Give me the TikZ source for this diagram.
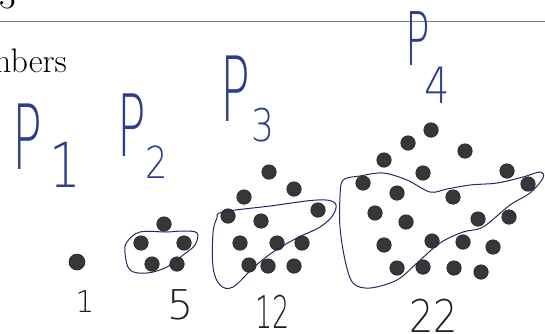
\documentclass[tikz,border=0pt]{standalone}
\usepackage{fontspec}
\newfontfamily\handfont{DejaVu Sans ExtraLight}
\usetikzlibrary{positioning}
\definecolor{inkblue}{RGB}{45,60,140}
\definecolor{inkloop}{RGB}{35,40,95}
\definecolor{inkdark}{RGB}{30,30,35}
\definecolor{dotgray}{RGB}{55,55,55}
\definecolor{rulegray}{RGB}{125,125,125}
\tikzset{
  pdot/.style={circle, fill=dotgray, draw=black!85, line width=0.6pt,
               inner sep=0pt, minimum size=14.5pt},
  hwlbl/.style={text=inkblue, inner sep=0pt, xscale=0.55},
  hwsub/.style={text=inkblue, inner sep=0pt, xscale=0.8},
  hwnum/.style={text=inkdark, inner sep=0pt},
  hwloop/.style={draw=inkloop, line width=1pt},
  printed/.style={inner sep=0pt, anchor=base west},
}
\newcommand{\hwfont}[1]{\handfont\fontsize{#1}{#1}\selectfont}

\begin{document}
\begin{tikzpicture}[x=1pt,y=-1pt]
    \useasboundingbox (0,0) rectangle (545,333);

      % printed page parts
      \node[printed, font=\fontsize{36}{36}\selectfont] (secnum) at (-1,8) {3};
      \draw[rulegray, line width=0.8pt] (0,21) -- (545,21);
      \node[printed, font=\fontsize{34}{34}\selectfont] (title) at (-15,72) {mbers};

      % handwritten names
      \node[hwlbl, font=\hwfont{90}] (p1P) at (27,137) {P};
      \node[hwsub, font=\hwfont{62}] (p1sub) at (65,165) {1};
      \node[hwlbl, font=\hwfont{86}] (p2P) at (132,125) {P};
      \node[hwsub, font=\hwfont{44}] (p2sub) at (157,162) {2};
      \node[hwlbl, font=\hwfont{90}] (p3P) at (235,89) {P};
      \node[hwsub, font=\hwfont{45}] (p3sub) at (263,125) {3};
      \node[hwlbl, font=\hwfont{74}] (p4P) at (418,39) {P};
      \node[hwsub, font=\hwfont{50}] (p4sub) at (437,85) {4};

      % dots
      \node[pdot, minimum size=16pt] (d1-1) at (77,262) {};
      \foreach \x/\y [count=\i] in {164/224, 141/243, 184/243, 152/264, 177/264}
        \node[pdot] (d2-\i) at (\x,\y) {};
      \foreach \x/\y [count=\i] in {269/172, 244/197, 294/189, 228/216, 261/221,
                                    318/210, 240/243, 277/243, 302/243, 249/265,
                                    268/266, 294/266}
        \node[pdot] (d3-\i) at (\x,\y) {};
      \foreach \x/\y [count=\i] in {431/130, 408/143, 465/151, 384/160, 423/173,
                                    507/171, 363/183, 397/193, 453/197, 528/184,
                                    375/213, 406/222, 478/219, 509/217, 384/245,
                                    432/241, 463/242, 493/247, 397/268, 423/267,
                                    454/268, 481/272}
        \node[pdot] (d4-\i) at (\x,\y) {};

      % loops round the new dots
      \draw[hwloop] plot[smooth cycle, tension=0.6] coordinates {
        (127,242) (140,232) (167,232) (183,231) (197,233) (195,245)
        (183,255) (167,267) (147,273) (130,270) (125,253)};
      \draw[hwloop] plot[smooth cycle, tension=0.6] coordinates {
        (223,212) (270,206) (317,200) (335,203) (333,215) (320,227)
        (297,238) (273,252) (253,268) (233,287) (220,285) (213,267)
        (213,233) (217,218)};
      \draw[hwloop] plot[smooth cycle, tension=0.55] coordinates {
        (343,180) (360,176) (383,173) (407,180) (430,192) (447,189)
        (470,185) (497,183) (523,177) (540,172) (543,178) (530,193)
        (510,205) (483,227) (463,232) (440,243) (417,263) (397,280)
        (370,288) (353,283) (345,260) (340,227) (340,197)};

      % counts
      \node[hwnum, font=\hwfont{30}] (n1) at (85,302) {1};
      \node[hwnum, font=\hwfont{41}] (n2) at (181,305) {5};
      \node[hwnum, font=\hwfont{45}, xscale=0.6] (n3) at (273,312) {12};
      \node[hwnum, font=\hwfont{45}, xscale=0.85] (n4) at (434,316) {22};

    \end{tikzpicture}
\end{document}
